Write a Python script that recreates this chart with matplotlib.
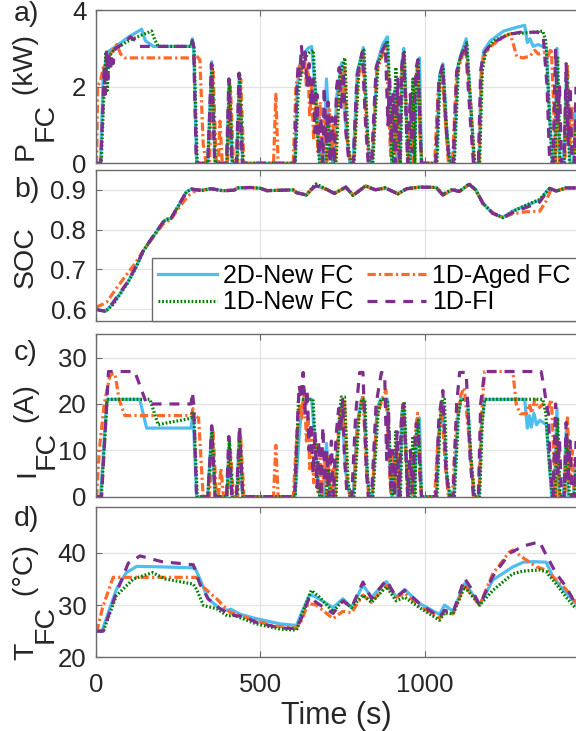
import numpy as np
from matplotlib import pyplot as plt

plt.rcParams['font.family'] = ['Liberation Sans', 'DejaVu Sans']

W, H = 576, 731

# (time s, P_FC kW)
p_2d_new = [(0, 0), (14, 0), (22, 2.3), (35, 2.9), (60, 3.05), (100, 3.3), (139, 3.5), (150, 3.2), (174, 3.05),
            (289, 3.05), (293, 3.25), (297, 3.05), (306, 0), (340, 0), (352, 2.65), (362, 0), (398, 0), (405, 2.2),
            (414, 0), (428, 0), (436, 2.35), (446, 0), (605, 0), (612, 2.0), (625, 2.8), (645, 3.0), (656, 3.05),
            (670, 1.6), (681, 0), (692, 0), (701, 2.2), (712, 0.3), (722, 0), (733, 1.8), (747, 2.62), (760, 1.0),
            (772, 0), (782, 0), (795, 2.4), (813, 3.02), (824, 1.0), (831, 0), (840, 0), (855, 2.6), (872, 3.1),
            (886, 3.3), (894, 1.2), (900, 0), (908, 1.9), (916, 0), (924, 0), (930, 2.6), (936, 3.0), (946, 1.0),
            (952, 0), (962, 1.6), (968, 0), (975, 2.2), (984, 2.75), (990, 0), (1035, 0), (1045, 2.3), (1055, 2.6),
            (1066, 1.0), (1076, 0), (1088, 0), (1100, 2.5), (1112, 2.9), (1126, 3.25), (1140, 1.5), (1150, 0),
            (1165, 0), (1172, 2.5), (1180, 2.95), (1200, 3.2), (1240, 3.45), (1280, 3.55), (1304, 3.6), (1312, 3.15),
            (1320, 3.25), (1330, 3.05), (1345, 3.1), (1370, 3.0), (1378, 1.5), (1388, 0), (1395, 0), (1402, 3.0),
            (1410, 0), (1422, 0), (1432, 2.5), (1442, 0), (1452, 0), (1460, 1.5)]
p_1d_new = [(0, 0), (16, 0), (24, 1.8), (30, 2.9), (34, 1.9), (40, 2.8), (60, 3.0), (100, 3.2), (140, 3.35),
            (169, 3.45), (180, 3.2), (189, 3.05), (289, 3.05), (293, 3.2), (298, 3.05), (308, 0), (340, 0),
            (353, 2.6), (363, 0), (398, 0), (406, 2.2), (415, 0), (429, 0), (437, 2.3), (447, 0), (606, 0),
            (615, 1.8), (630, 2.7), (650, 2.9), (661, 2.95), (672, 1.0), (680, 0), (700, 0), (706, 1.2), (714, 0),
            (730, 0), (742, 2.3), (757, 2.75), (767, 0.5), (775, 0), (785, 0), (800, 2.5), (815, 2.95), (826, 0.8),
            (833, 0), (842, 0), (858, 2.6), (875, 3.0), (887, 3.2), (896, 1.5), (900, 0), (905, 0), (912, 2.5),
            (920, 0.3), (926, 0), (932, 2.5), (938, 2.9), (948, 0), (955, 0), (964, 2.2), (970, 0), (974, 2.2),
            (980, 2.7), (990, 0), (1037, 0), (1047, 2.3), (1056, 2.5), (1067, 0.8), (1077, 0), (1090, 0),
            (1103, 2.6), (1115, 2.9), (1128, 3.15), (1142, 1.2), (1152, 0), (1167, 0), (1175, 2.4), (1185, 2.9),
            (1210, 3.2), (1260, 3.38), (1300, 3.4), (1330, 3.42), (1359, 3.45), (1368, 3.2), (1378, 1.5),
            (1388, 0), (1396, 0), (1404, 2.8), (1412, 0), (1424, 0), (1432, 2.4), (1440, 0), (1455, 0), (1460, 1.2)]
p_1d_aged = [(0, 0), (2, 0), (5, 2.0), (15, 2.2), (22, 2.5), (30, 2.4), (40, 2.8), (55, 3.0), (63, 3.1), (75, 2.85),
             (88, 2.75), (300, 2.75), (306, 2.8), (316, 2.7), (326, 0.5), (335, 0), (345, 0), (356, 2.4), (366, 0),
             (372, 0), (377, 1.1), (384, 0), (400, 0), (409, 2.0), (418, 0), (431, 0), (440, 2.2), (450, 0),
             (540, 0), (547, 1.8), (554, 0), (600, 0), (608, 2.0), (620, 2.6), (627, 2.3), (634, 2.8), (640, 2.0),
             (645, 2.5), (650, 1.2), (656, 2.0), (662, 0.6), (668, 1.8), (675, 0.3), (682, 1.6), (688, 0),
             (696, 1.4), (702, 0), (710, 1.4), (716, 0.2), (722, 1.0), (728, 0), (736, 1.8), (744, 2.4), (750, 1.8),
             (756, 2.5), (764, 0.6), (774, 0), (784, 0), (796, 2.2), (812, 2.8), (822, 1.0), (830, 0), (840, 0),
             (854, 2.4), (870, 2.8), (882, 3.0), (890, 1.6), (896, 0.2), (902, 1.5), (908, 0.2), (914, 1.8),
             (920, 0), (928, 2.3), (934, 2.8), (944, 1.2), (950, 0), (958, 1.5), (964, 0), (970, 2.0), (978, 2.6),
             (986, 0.6), (992, 0), (1030, 0), (1040, 1.8), (1052, 2.4), (1062, 1.2), (1072, 0), (1084, 0),
             (1096, 2.2), (1110, 2.7), (1124, 3.05), (1140, 1.5), (1150, 0), (1165, 0), (1172, 2.3), (1180, 2.8),
             (1200, 3.05), (1240, 3.3), (1260, 3.38), (1268, 3.15), (1280, 2.78), (1300, 2.75), (1320, 2.8),
             (1335, 2.95), (1345, 2.85), (1360, 2.9), (1375, 2.8), (1385, 3.0), (1392, 1.5), (1398, 0), (1404, 2.0),
             (1410, 0), (1426, 0), (1434, 2.6), (1442, 0.5), (1448, 1.5), (1455, 0), (1460, 0)]
p_1d_fi = [(0, 0), (14, 0), (20, 1.2), (25, 2.5), (28, 1.8), (32, 2.95), (36, 2.2), (40, 2.9), (44, 2.4), (48, 2.85),
           (52, 2.6), (58, 3.0), (80, 3.1), (105, 3.3), (120, 3.2), (131, 3.05), (289, 3.05), (293, 3.2),
           (297, 3.05), (305, 0), (340, 0), (351, 2.6), (361, 0), (397, 0), (404, 2.2), (413, 0), (427, 0),
           (435, 2.35), (445, 0), (604, 0), (610, 1.8), (615, 2.6), (620, 2.3), (625, 3.05), (630, 2.5), (636, 2.9),
           (642, 2.0), (648, 2.6), (654, 1.5), (660, 2.2), (666, 0.8), (672, 1.8), (678, 0.2), (684, 1.2), (690, 0),
           (694, 2.0), (700, 0.5), (706, 1.6), (712, 0), (718, 1.2), (724, 0), (732, 2.0), (740, 2.5), (746, 1.4),
           (752, 2.4), (760, 0.8), (770, 0), (782, 0), (794, 2.3), (810, 2.9), (820, 1.0), (828, 0), (838, 0),
           (852, 2.5), (868, 2.9), (880, 3.1), (888, 1.0), (893, 2.3), (898, 0.5), (904, 1.8), (910, 0), (918, 2.2),
           (924, 0), (930, 2.5), (935, 2.9), (942, 1.5), (948, 0), (956, 1.8), (962, 0.3), (968, 1.5), (974, 2.5),
           (979, 2.7), (986, 0.8), (990, 0), (1033, 0), (1043, 2.2), (1054, 2.55), (1064, 1.0), (1074, 0),
           (1086, 0), (1097, 2.4), (1110, 2.8), (1124, 3.1), (1138, 1.2), (1148, 0), (1163, 0), (1170, 2.4),
           (1178, 2.85), (1200, 3.1), (1250, 3.35), (1290, 3.42), (1320, 3.42), (1345, 3.42), (1360, 3.35),
           (1372, 2.0), (1380, 0), (1390, 0), (1398, 3.0), (1404, 1.0), (1410, 2.0), (1416, 0), (1424, 0),
           (1430, 2.6), (1436, 0.5), (1442, 2.0), (1448, 0), (1455, 0), (1460, 2.0)]

# (time s, SOC)
soc_2d_new = [(0, 0.600), (12, 0.597), (28, 0.595), (50, 0.612), (94, 0.664), (120, 0.703), (145, 0.748),
              (175, 0.784), (205, 0.820), (215, 0.826), (228, 0.828), (255, 0.866), (275, 0.895), (291, 0.902),
              (320, 0.899), (350, 0.903), (385, 0.898), (420, 0.899), (430, 0.905), (470, 0.906), (500, 0.904),
              (520, 0.898), (560, 0.899), (600, 0.900), (610, 0.893), (640, 0.887), (660, 0.905), (670, 0.910),
              (700, 0.902), (725, 0.891), (760, 0.907), (782, 0.886), (820, 0.910), (850, 0.900), (880, 0.905),
              (918, 0.890), (945, 0.903), (985, 0.907), (1035, 0.906), (1055, 0.887), (1085, 0.900), (1105, 0.896),
              (1135, 0.914), (1155, 0.900), (1177, 0.866), (1207, 0.841), (1238, 0.831), (1268, 0.847),
              (1309, 0.861), (1349, 0.874), (1372, 0.897), (1380, 0.904), (1400, 0.897), (1430, 0.905),
              (1460, 0.905)]
soc_1d_new = [(0, 0.600), (12, 0.597), (30, 0.595), (52, 0.612), (94, 0.663), (120, 0.702), (145, 0.748),
              (175, 0.784), (205, 0.820), (215, 0.826), (228, 0.828), (255, 0.866), (275, 0.895), (291, 0.902),
              (320, 0.898), (350, 0.903), (385, 0.898), (420, 0.899), (430, 0.905), (470, 0.906), (500, 0.904),
              (520, 0.898), (560, 0.899), (600, 0.900), (610, 0.893), (640, 0.887), (660, 0.908), (670, 0.915),
              (700, 0.902), (725, 0.891), (760, 0.907), (782, 0.886), (820, 0.910), (850, 0.900), (880, 0.905),
              (918, 0.890), (945, 0.903), (985, 0.907), (1035, 0.906), (1055, 0.889), (1085, 0.902), (1105, 0.896),
              (1135, 0.915), (1155, 0.900), (1177, 0.866), (1207, 0.841), (1238, 0.830), (1268, 0.846),
              (1309, 0.862), (1349, 0.876), (1372, 0.897), (1380, 0.904), (1400, 0.897), (1430, 0.905),
              (1460, 0.905)]
soc_1d_aged = [(0, 0.605), (20, 0.612), (33, 0.618), (60, 0.650), (94, 0.688), (120, 0.716), (145, 0.749),
               (175, 0.782), (205, 0.815), (228, 0.826), (255, 0.858), (280, 0.885), (306, 0.900), (320, 0.899),
               (350, 0.903), (385, 0.898), (420, 0.899), (430, 0.905), (470, 0.906), (500, 0.904), (520, 0.899),
               (560, 0.899), (600, 0.900), (610, 0.893), (640, 0.887), (660, 0.905), (670, 0.910), (700, 0.902),
               (725, 0.891), (760, 0.907), (782, 0.887), (820, 0.910), (850, 0.900), (880, 0.905), (918, 0.890),
               (945, 0.903), (985, 0.907), (1035, 0.906), (1055, 0.887), (1085, 0.900), (1105, 0.896),
               (1135, 0.914), (1155, 0.900), (1177, 0.866), (1207, 0.842), (1238, 0.831), (1268, 0.840),
               (1309, 0.845), (1349, 0.846), (1368, 0.870), (1385, 0.903), (1400, 0.897), (1430, 0.905),
               (1460, 0.905)]
soc_1d_fi = [(0, 0.600), (12, 0.597), (28, 0.595), (50, 0.615), (94, 0.666), (120, 0.705), (145, 0.749),
             (175, 0.785), (205, 0.820), (215, 0.826), (228, 0.828), (255, 0.867), (275, 0.895), (291, 0.902),
             (320, 0.899), (350, 0.903), (385, 0.898), (420, 0.899), (430, 0.905), (470, 0.906), (500, 0.904),
             (520, 0.898), (560, 0.899), (600, 0.900), (610, 0.893), (640, 0.887), (660, 0.905), (670, 0.910),
             (700, 0.902), (725, 0.891), (760, 0.907), (782, 0.886), (820, 0.910), (850, 0.900), (880, 0.905),
             (918, 0.890), (945, 0.903), (985, 0.907), (1035, 0.906), (1055, 0.887), (1085, 0.900), (1105, 0.896),
             (1135, 0.914), (1155, 0.900), (1177, 0.866), (1207, 0.841), (1238, 0.830), (1268, 0.843),
             (1309, 0.856), (1349, 0.869), (1372, 0.895), (1380, 0.904), (1400, 0.897), (1430, 0.905),
             (1460, 0.905)]

# (time s, I_FC A)
i_2d_new = [(0, 0), (14, 0), (33, 21), (133, 21), (154, 14.8), (289, 14.8), (293, 17), (297, 15), (306, 0), (340, 0),
            (352, 15), (362, 0), (398, 0), (405, 11.5), (414, 0), (428, 0), (436, 14), (446, 0), (605, 0), (620, 15),
            (630, 21), (656, 21), (670, 8), (681, 0), (692, 0), (701, 11.5), (712, 0), (722, 0), (733, 9),
            (747, 20), (760, 5), (772, 0), (782, 0), (795, 16), (808, 21), (815, 21), (824, 6), (831, 0), (840, 0),
            (855, 19), (866, 21), (886, 21), (894, 6), (900, 0), (908, 9), (916, 0), (924, 0), (930, 18), (936, 20),
            (946, 5), (952, 0), (962, 8), (968, 0), (975, 14), (984, 17), (990, 0), (1035, 0), (1045, 15),
            (1055, 20), (1066, 5), (1076, 0), (1088, 0), (1100, 17), (1110, 21), (1130, 21), (1140, 8), (1150, 0),
            (1165, 0), (1172, 15), (1182, 21), (1304, 21), (1312, 14.8), (1318, 17.5), (1324, 15), (1332, 18),
            (1340, 15.5), (1350, 16.5), (1370, 15.5), (1378, 8), (1386, 0), (1394, 0), (1402, 19), (1408, 0),
            (1422, 0), (1430, 14), (1436, 0), (1452, 0), (1460, 8)]
i_1d_new = [(0, 0), (16, 0), (34, 21), (164, 21), (189, 15.5), (220, 16), (276, 16.7), (289, 17), (293, 18),
            (298, 17), (308, 0), (340, 0), (353, 14.5), (363, 0), (398, 0), (406, 12), (415, 0), (429, 0),
            (437, 13), (447, 0), (606, 0), (616, 21), (660, 21), (672, 5), (680, 0), (700, 0), (706, 6), (714, 0),
            (730, 0), (740, 17), (746, 21.5), (756, 21.5), (767, 3), (775, 0), (785, 0), (800, 17), (808, 21),
            (818, 21), (826, 4), (833, 0), (842, 0), (858, 18), (866, 21), (887, 21), (896, 7), (900, 0), (905, 0),
            (912, 14), (920, 2), (926, 0), (932, 18), (938, 20.5), (948, 0), (955, 0), (964, 13), (970, 0),
            (974, 13), (980, 16.5), (990, 0), (1037, 0), (1047, 17), (1053, 21), (1060, 21), (1067, 5), (1077, 0),
            (1090, 0), (1103, 18), (1110, 21), (1130, 21), (1142, 7), (1152, 0), (1167, 0), (1175, 16), (1182, 21),
            (1359, 21), (1368, 18), (1378, 8), (1388, 0), (1396, 0), (1404, 17), (1412, 0), (1424, 0), (1432, 13),
            (1440, 0), (1455, 0), (1460, 6)]
i_1d_aged = [(0, 0), (2, 0), (10, 10), (25, 20), (42, 26), (50, 26.5), (58, 26.5), (70, 21), (88, 17.5), (290, 17.5),
             (295, 19), (301, 17.5), (312, 17), (326, 0), (345, 0), (356, 14), (366, 0), (372, 0), (380, 6.1),
             (388, 0), (400, 0), (409, 10), (418, 0), (431, 0), (440, 13), (450, 0), (540, 0), (547, 11.1),
             (554, 0), (600, 0), (608, 10), (620, 20), (627, 17), (634, 23), (640, 12), (645, 18), (650, 6),
             (656, 14), (662, 3), (668, 12), (675, 1), (682, 10), (688, 0), (696, 8), (702, 0), (710, 9), (716, 1),
             (722, 6), (728, 0), (736, 13), (744, 19), (750, 14), (756, 21), (764, 3), (774, 0), (784, 0),
             (796, 16), (812, 22), (822, 6), (830, 0), (840, 0), (854, 17), (870, 21), (882, 23), (890, 10),
             (896, 1), (902, 9), (908, 1), (914, 12), (920, 0), (928, 16), (934, 20), (944, 7), (950, 0), (958, 9),
             (964, 0), (970, 13), (978, 18), (986, 3), (992, 0), (1030, 0), (1040, 12), (1052, 19), (1062, 7),
             (1072, 0), (1084, 0), (1096, 16), (1110, 22), (1120, 23.5), (1140, 9), (1150, 0), (1165, 0),
             (1172, 17), (1182, 27), (1268, 27), (1278, 20), (1290, 17.9), (1309, 17.9), (1318, 20), (1325, 18),
             (1335, 21), (1345, 19), (1360, 20), (1372, 18.5), (1385, 21), (1392, 10), (1398, 0), (1404, 13),
             (1410, 0), (1426, 0), (1434, 17), (1442, 3), (1448, 10), (1455, 0), (1460, 0)]
i_1d_fi = [(0, 0), (17, 0), (38, 27), (118, 27), (154, 20), (289, 20), (293, 22.5), (297, 20), (306, 0), (340, 0),
           (352, 15.3), (362, 0), (397, 0), (404, 13), (413, 0), (427, 0), (437, 15.3), (446, 0), (604, 0),
           (612, 15), (618, 24), (624, 21), (630, 26.8), (636, 18), (642, 23), (648, 10), (654, 16), (660, 5),
           (666, 14), (672, 2), (678, 12), (684, 0), (690, 15), (696, 3), (702, 10), (708, 0), (716, 12), (722, 0),
           (730, 13), (738, 19), (744, 14), (750, 21), (756, 8), (764, 0), (778, 0), (790, 18), (802, 26.8),
           (812, 26.8), (822, 6), (828, 0), (838, 0), (852, 20), (868, 26.8), (878, 26.5), (884, 8), (890, 18),
           (896, 2), (902, 10), (908, 0), (916, 14), (922, 0), (930, 18), (935, 20), (942, 10), (948, 0), (956, 10),
           (962, 1), (968, 9), (974, 15.8), (980, 15), (986, 4), (990, 0), (1033, 0), (1043, 17), (1055, 22.9),
           (1064, 6), (1074, 0), (1086, 0), (1097, 20), (1106, 26.8), (1126, 26.8), (1138, 8), (1148, 0),
           (1163, 0), (1170, 20), (1182, 27), (1354, 27), (1364, 23), (1370, 20), (1376, 18), (1382, 6), (1390, 0),
           (1398, 20), (1404, 5), (1410, 12), (1416, 0), (1424, 0), (1430, 16), (1436, 3), (1442, 12), (1448, 0),
           (1455, 0), (1460, 12)]

# (time s, T_FC degC)
t_2d_new = [(0, 25), (18, 25), (40, 29), (62, 33), (92, 36.2), (124, 37.4), (200, 37.3), (301, 37.1), (316, 35),
            (341, 31.2), (377, 29.3), (400, 29), (410, 29.2), (440, 28.2), (487, 27.4), (560, 26.4), (610, 26.1),
            (625, 28.5), (650, 32), (670, 31.5), (721, 29.5), (751, 31.2), (777, 29.5), (812, 33.8), (838, 31.5),
            (883, 34.5), (913, 31.5), (939, 33), (984, 30.3), (1045, 28.2), (1060, 30), (1086, 28.8),
            (1121, 34.1), (1141, 32.5), (1167, 30), (1207, 34.8), (1268, 37.3), (1300, 38.2), (1330, 38.3),
            (1369, 38.2), (1390, 35.4), (1420, 33), (1450, 31), (1460, 30.2)]
t_1d_new = [(0, 25), (22, 25), (62, 31.8), (114, 35), (172, 36.2), (210, 35), (296, 34), (306, 33), (327, 29.9),
            (367, 29.3), (400, 27.9), (420, 28), (450, 27.3), (487, 26.4), (560, 25.4), (610, 25.2), (625, 28),
            (655, 32.8), (680, 31.5), (721, 28.7), (751, 30.9), (777, 29.5), (812, 31.9), (838, 30.5),
            (883, 33.5), (913, 30.8), (939, 31.5), (984, 29.5), (1045, 27.1), (1060, 28.5), (1086, 28.3),
            (1121, 33.5), (1141, 32), (1167, 30), (1207, 32.8), (1268, 36), (1300, 36.5), (1349, 36.7),
            (1369, 36.4), (1400, 34), (1430, 31.5), (1460, 29.3)]
t_1d_aged = [(0, 25), (3, 25), (20, 29.5), (52, 35.3), (306, 35.3), (316, 34.5), (327, 33.4), (367, 31.2),
             (407, 28.6), (487, 27), (538, 26), (610, 25.6), (625, 27), (645, 30.3), (670, 30), (721, 27.4),
             (751, 28.8), (777, 28.5), (812, 31.9), (838, 30.5), (883, 33.8), (913, 31.5), (939, 32.3),
             (984, 29.8), (1045, 27.5), (1060, 28.7), (1086, 28.3), (1121, 33.8), (1141, 32), (1167, 30),
             (1207, 36), (1258, 40.2), (1268, 40.5), (1300, 39), (1340, 37.3), (1369, 36.7), (1400, 34.8),
             (1430, 33), (1460, 30.5)]
t_1d_fi = [(0, 25), (22, 25), (60, 32), (98, 38), (134, 39.4), (200, 38.3), (296, 37.7), (316, 34), (341, 31.2),
           (377, 29.3), (400, 28.5), (410, 28.6), (420, 28), (450, 27.8), (487, 26.7), (560, 25.6), (610, 25.5),
           (625, 27.5), (650, 31.6), (670, 30.5), (721, 28.4), (751, 30.8), (777, 29.5), (812, 34.4), (838, 31.2),
           (883, 34.8), (913, 31.5), (939, 32.8), (984, 30.3), (1045, 27.7), (1060, 29), (1086, 28.5),
           (1121, 35.1), (1141, 33.2), (1167, 30), (1207, 35.5), (1258, 39.9), (1300, 41.3), (1349, 42.1),
           (1370, 39.5), (1400, 36), (1430, 33.5), (1460, 30)]

labels = ['2D-New FC', '1D-New FC', '1D-Aged FC', '1D-FI']
colors = ['#4DBEEE', '#008000', '#FF6A2A', '#7E2F8E']
styles = ['-', (0, (0.55, 0.6)), (0, (2.6, 1.0, 0.7, 1.0)), (0, (3.1, 2.5))]
draw_order = [0, 2, 1, 3]

panels = [
    ([p_2d_new, p_1d_new, p_1d_aged, p_1d_fi], (0, 4), [0, 2, 4], ['0', '2', '4']),
    ([soc_2d_new, soc_1d_new, soc_1d_aged, soc_1d_fi], (0.571, 0.95), [0.6, 0.7, 0.8, 0.9],
     ['0.6', '0.7', '0.8', '0.9']),
    ([i_2d_new, i_1d_new, i_1d_aged, i_1d_fi], (0, 35.2), [0, 10, 20, 30], ['0', '10', '20', '30']),
    ([t_2d_new, t_1d_new, t_1d_aged, t_1d_fi], (20, 48.7), [20, 30, 40], ['20', '30', '40']),
]
# top / bottom edge of each axes, pixels from the top
edges = [(10, 163.3), (170, 320.7), (333.5, 496.7), (507.3, 657.3)]

tick_fs = 18.5
lab_fs = 20.5
txt_c = '#262626'
edge_c = '#6b6b6b'

fig = plt.figure(figsize=(W / 100, H / 100), dpi=100)
axes = []
handles = [None] * 4
for k, (series, ylim, yt, ytl) in enumerate(panels):
    top, bot = edges[k]
    ax = fig.add_axes([96 / W, 1 - bot / H, 1 - 96 / W, (bot - top) / H])
    for j in draw_order:
        t, v = zip(*series[j])
        ln, = ax.plot(t, v, color=colors[j], linestyle=styles[j], lw=2.3)
        handles[j] = ln
    ax.set_xlim(0, 1460)
    ax.set_ylim(*ylim)
    ax.set_yticks(yt)
    ax.set_yticklabels(ytl)
    ax.set_xticks([0, 500, 1000])
    ax.grid(True, color='#e3e3e3', lw=0.9)
    ax.set_axisbelow(True)
    ax.tick_params(direction='in', length=4, width=0.8, color=edge_c, labelsize=tick_fs,
                   labelcolor=txt_c, pad=7, top=True)
    ax.tick_params(axis='x', pad=11)
    ax.spines['right'].set_visible(False)
    for s in ['left', 'top', 'bottom']:
        ax.spines[s].set_color(edge_c)
        ax.spines[s].set_linewidth(1.0)
    if k < 3:
        ax.tick_params(labelbottom=False)
    axes.append(ax)

axes[3].set_xlabel('Time (s)', fontsize=22, color=txt_c, labelpad=3)

leg = axes[1].legend([handles[i] for i in range(4)], labels, ncol=2, loc='lower left',
                     bbox_to_anchor=((152 - 96) / 480, 0.0), borderaxespad=0, fontsize=18,
                     handlelength=2.35, handletextpad=0.25, columnspacing=0.55, labelspacing=0.1,
                     borderpad=0.25, fancybox=False, framealpha=1, edgecolor=edge_c)
leg.get_frame().set_linewidth(1.0)

# panel tags
for tag, yc in zip(['a)', 'b)', 'c)', 'd)'], [14, 190, 353, 519]):
    fig.text(14 / W, 1 - yc / H, tag, fontsize=lab_fs, color=txt_c, ha='left', va='center')

renderer = fig.canvas.get_renderer()


def side_label(xb, yb, main, sub, unit):
    kw = dict(rotation=90, rotation_mode='anchor', ha='left', va='baseline', fontsize=lab_fs, color=txt_c)
    t1 = fig.text(xb / W, 1 - yb / H, main, **kw)
    h1 = t1.get_window_extent(renderer).height
    if not sub:
        return
    t2 = fig.text((xb + 20) / W, 1 - (yb - h1) / H, sub, **kw)
    h2 = t2.get_window_extent(renderer).height
    fig.text(xb / W, 1 - (yb - h1 - h2) / H, ' ' + unit, **kw)


side_label(33, 160, 'P', 'FC', '(kW)')
side_label(33, 288, 'SOC', '', '')
side_label(34, 477, 'I', 'FC', '(A)')
side_label(33, 660, 'T', 'FC', '(°C)')

fig.savefig('out.png', dpi=100)
